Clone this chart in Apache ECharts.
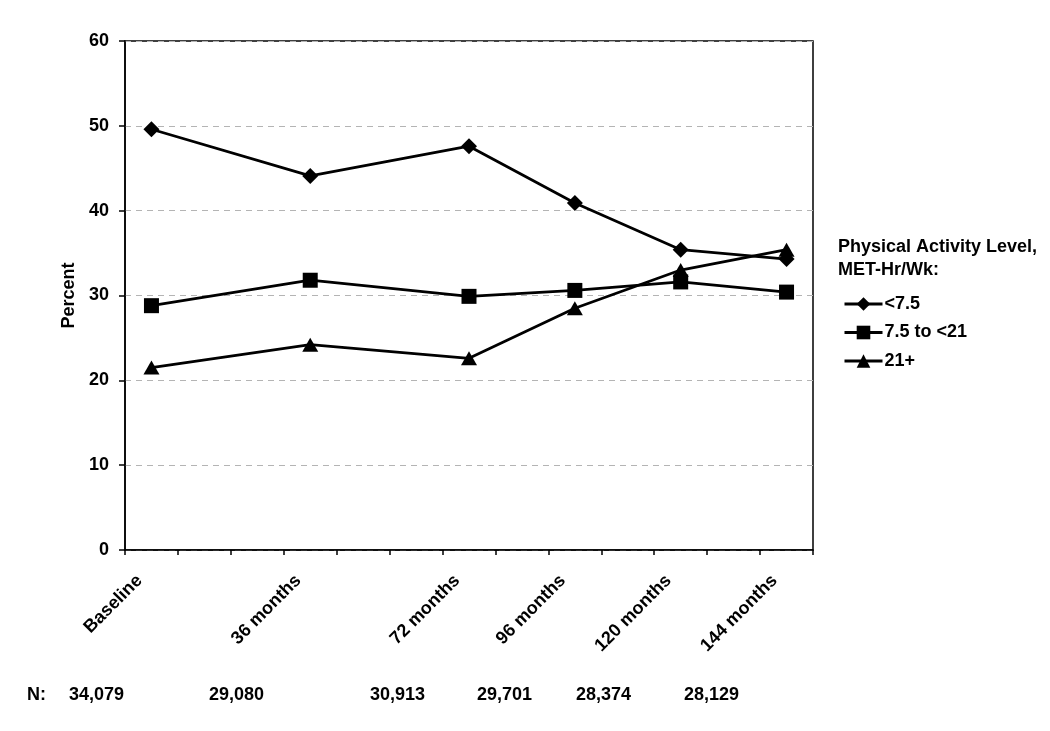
<!DOCTYPE html>
<html>
<head>
<meta charset="utf-8">
<title>Physical Activity Level over time</title>
<script src="https://cdn.jsdelivr.net/npm/echarts@6/dist/echarts.min.js"></script>
<style>
  html, body { margin: 0; padding: 0; background: #fff; }
  #chart { width: 1050px; height: 731px; }
</style>
</head>
<body>
<div id="chart"></div>
<script>
// 横轴：每12个月一个刻度
const months = ['0', '12', '24', '36', '48', '60', '72', '84', '96', '108', '120', '132', '144']
// 有数据的随访时间点
const visits = ['0', '36', '72', '96', '120', '144']
const visitLabels = ['Baseline', '36 months', '72 months', '96 months', '120 months', '144 months']
// 各组百分比
const lowValues = [49.6, 44.1, 47.6, 40.9, 35.4, 34.3]
const midValues = [28.8, 31.8, 29.9, 30.6, 31.6, 30.4]
const highValues = [21.5, 24.2, 22.6, 28.5, 33.0, 35.4]
const seriesNames = ['<7.5', '7.5 to <21', '21+']
// 每个时间点的样本量
const nCounts = ['34,079', '29,080', '30,913', '29,701', '28,374', '28,129']
// 样本量文字的横向位置
const nTextX = [69, 209, 370, 477, 576, 684]

const FONT = '"Liberation Sans", Arial, sans-serif'
const chart = echarts.init(document.getElementById('chart'))

// 时间点 -> 横轴文字
const labelOf = {}
visits.forEach((m, i) => { labelOf[m] = visitLabels[i] })

function toPairs(values) {
  return visits.map((m, i) => [m, values[i]])
}

function makeSeries(name, values, symbol, size) {
  return {
    name: name,
    type: 'line',
    data: toPairs(values),
    symbol: symbol,
    symbolSize: size,
    showSymbol: true,
    color: '#000',
    lineStyle: { color: '#000', width: 2.8 },
    itemStyle: { color: '#000' },
    emphasis: { disabled: true },
    z: 3,
  }
}

// N 行
const graphics = [{
  type: 'text',
  left: 27,
  top: 686,
  style: { text: 'N:', font: 'bold 18px ' + FONT, fill: '#000' },
}]
nCounts.forEach((t, i) => {
  graphics.push({
    type: 'text',
    left: nTextX[i],
    top: 686,
    style: { text: t, font: 'bold 18px ' + FONT, fill: '#000' },
  })
})

const option = {
  animation: false,
  backgroundColor: '#fff',
  textStyle: { fontFamily: FONT },
  title: {
    text: 'Physical Activity Level,\nMET-Hr/Wk:',
    left: 838,
    top: 236,
    padding: 0,
    textStyle: { fontSize: 18, fontWeight: 'bold', color: '#000', lineHeight: 23, fontFamily: FONT },
  },
  legend: {
    orient: 'vertical',
    left: 843,
    top: 295,
    padding: 0,
    itemWidth: 38,
    itemHeight: 17,
    itemGap: 10.5,
    selectedMode: false,
    data: seriesNames,
    lineStyle: { width: 3 },
    textStyle: { fontSize: 18, fontWeight: 'bold', color: '#000', fontFamily: FONT, padding: [0, 0, 0, -3] },
  },
  grid: {
    left: 125,
    right: 237,
    top: 41,
    bottom: 181,
    show: true,
    borderColor: '#000',
    borderWidth: 1.5,
  },
  xAxis: {
    type: 'category',
    data: months,
    boundaryGap: true,
    axisLine: { lineStyle: { color: '#000', width: 1.5 } },
    axisTick: { show: true, interval: 0, length: 5, lineStyle: { color: '#000', width: 1.5 } },
    axisLabel: {
      interval: 0,
      rotate: 45,
      margin: 40,
      verticalAlign: 'bottom',
      padding: [0, 0, 8, 0],
      color: '#000',
      fontSize: 18,
      fontWeight: 'bold',
      fontFamily: FONT,
      formatter: (v) => labelOf[v] || '',
    },
    splitLine: { show: false },
  },
  yAxis: {
    type: 'value',
    min: 0,
    max: 60,
    interval: 10,
    name: 'Percent',
    nameLocation: 'middle',
    nameRotate: 90,
    nameGap: 46,
    nameTextStyle: { fontSize: 18, fontWeight: 'bold', color: '#000', fontFamily: FONT },
    axisLine: { show: true, lineStyle: { color: '#000', width: 1.5 } },
    axisTick: { show: true, length: 6, lineStyle: { color: '#000', width: 1.5 } },
    axisLabel: { margin: 16, color: '#000', fontSize: 18, fontWeight: 'bold', fontFamily: FONT },
    splitLine: { show: true, lineStyle: { color: '#b4b4b4', type: [6, 5], width: 1 } },
  },
  series: [
    makeSeries(seriesNames[0], lowValues, 'diamond', 16),
    makeSeries(seriesNames[1], midValues, 'rect', 15),
    makeSeries(seriesNames[2], highValues, 'triangle', [16, 14]),
  ],
  graphic: graphics,
}

chart.setOption(option)
</script>
</body>
</html>
